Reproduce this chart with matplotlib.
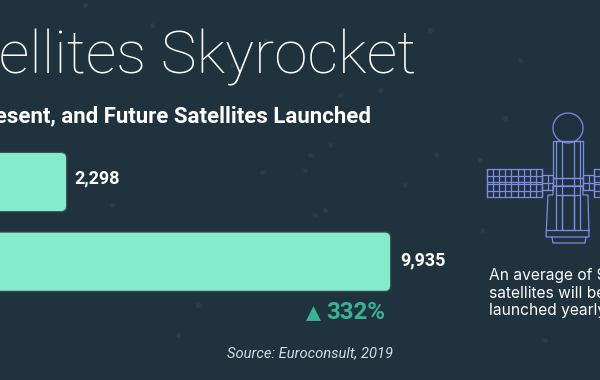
import matplotlib
matplotlib.use("Agg")
import matplotlib.pyplot as plt
from matplotlib.patches import FancyBboxPatch, Circle, Rectangle, Polygon

# Data
categories = ["Past decade", "Next decade"]
satellites = [2298, 9935]
value_labels = ["2,298", "9,935"]
change_label = "332%"

BG = "#20323d"
BAR = "#84ecca"
GREEN = "#36b594"
ICON = "#7f8ce6"
W, H = 600, 380

fig = plt.figure(figsize=(W / 100, H / 100), dpi=100, facecolor=BG)

# Background speckle sits beneath everything
bgax = fig.add_axes([0, 0, 1, 1], facecolor="none", zorder=0)
bgax.set_xlim(0, W)
bgax.set_ylim(H, 0)
bgax.axis("off")
star_x = [85, 152, 232, 265, 310, 330, 430, 436, 262, 325, 405, 480, 482, 505, 112, 178, 198, 305, 315, 340, 380, 520, 545]
star_y = [5, 25, 65, 40, 155, 145, 30, 155, 172, 210, 185, 160, 230, 118, 205, 335, 305, 170, 215, 95, 90, 60, 340]
bgax.scatter(star_x, star_y, s=12, color="#3b4e59", alpha=0.4, linewidths=0)

# Chart axes spans the whole figure; its scales place the bars as in the reference
ax = fig.add_axes([0, 0, 1, 1], facecolor="none", zorder=1)
ax.set_xlim(742, 14884)
ax.set_ylim(2.484, -2.284)
ax.axis("off")

xu = (14884 - 742) / W
yu = (2.484 + 2.284) / H
aspect = yu / xu
bar_h = 0.728
for i, v in enumerate(satellites):
    for grow, alpha in ((1.5, 0.08), (0.8, 0.15)):
        ax.add_patch(FancyBboxPatch((0, i - bar_h / 2), v, bar_h,
                     boxstyle=f"round,pad={grow * xu},rounding_size={6 * xu}",
                     mutation_aspect=aspect, fc="#c8d8d8", ec="none", alpha=alpha, zorder=2))
    ax.add_patch(FancyBboxPatch((0, i - bar_h / 2), v, bar_h,
                 boxstyle=f"round,pad=0,rounding_size={5 * xu}",
                 mutation_aspect=aspect, fc=BAR, ec="none", zorder=3))

ax.text(satellites[0] + 8 * xu, 0 - 4 * yu, value_labels[0], color="white", fontsize=13,
        fontfamily="Roboto", fontweight="bold", va="center", ha="left")
ax.text(satellites[1] + 10 * xu, 1 - 1 * yu, value_labels[1], color="white", fontsize=13,
        fontfamily="Roboto", fontweight="bold", va="center", ha="left")

# Overlay in pixel coordinates for titles, notes and the icon
ov = fig.add_axes([0, 0, 1, 1], facecolor="none", zorder=2)
ov.set_xlim(0, W)
ov.set_ylim(H, 0)
ov.axis("off")

ov.text(416, 74, "Satellites Skyrocket", color="white", fontsize=43.5, fontfamily="Roboto",
        fontweight="light", ha="right", va="baseline")
ov.text(371, 122, "Past, Present, and Future Satellites Launched", color="white", fontsize=16,
        fontfamily="Roboto", fontweight="bold", ha="right", va="baseline")

ov.scatter([313], [313], marker="^", s=115, color=GREEN, linewidths=0)
ov.text(385, 319, change_label, color=GREEN, fontsize=17.3, fontfamily="Roboto",
        fontweight="bold", ha="right", va="baseline")
ov.text(393, 357, "Source: Euroconsult, 2019", color="#d5dde0", fontsize=10.6, fontfamily="Roboto",
        fontstyle="italic", ha="right", va="baseline")

for txt, y in (("An average of 990", 280), ("satellites will be", 298), ("launched yearly", 315)):
    ov.text(489, y, txt, color="white", fontsize=11.2, fontfamily="Inter", ha="left", va="baseline")

# Satellite line icon
lw = 0.9
def rect(x0, y0, x1, y1):
    ov.add_patch(Rectangle((x0, y0), x1 - x0, y1 - y0, fc="none", ec=ICON, lw=lw))
def seg(x0, y0, x1, y1):
    ov.plot([x0, x1], [y0, y1], color=ICON, lw=lw)

ov.add_patch(Circle((568, 128), 15, fc="none", ec=ICON, lw=lw))
rect(553, 141, 583, 178)
rect(556, 141, 580, 195)
for x in (562, 574):
    seg(x, 141, x, 230)
rect(553, 178, 583, 186)
ov.add_patch(Polygon([(553, 186), (553, 195), (548, 195), (546, 237), (589, 237), (588, 195), (583, 195), (583, 186)],
                     closed=True, fc="none", ec=ICON, lw=lw))
rect(562, 195, 574, 230)
seg(556, 195, 556, 230)
seg(580, 195, 580, 230)
seg(546, 230, 589, 230)
ov.plot([552, 553, 585, 586], [237, 243, 243, 237], color=ICON, lw=lw)

for x0, x1 in ((487, 542), (594, 650)):
    rect(x0, 169, x1, 182)
    rect(x0, 184, x1, 197)
    step = 6.1
    x = x0
    while x < x1:
        seg(x, 169, x, 197)
        x += step
    seg(x0, 175.5, x1, 175.5)
    seg(x0, 190.5, x1, 190.5)
for x0, x1 in ((542, 553), (583, 594)):
    rect(x0, 175, x1, 190)
    seg((x0 + x1) / 2, 175, (x0 + x1) / 2, 190)
    seg(x0, 182.5, x1, 182.5)

fig.savefig("out.png", dpi=100, facecolor=BG)
